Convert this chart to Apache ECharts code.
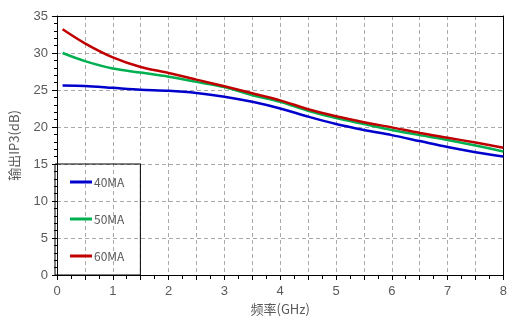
<!DOCTYPE html>
<html><head><meta charset="utf-8">
<script src="https://cdn.jsdelivr.net/npm/echarts@6/dist/echarts.min.js"></script>
<style>html,body{margin:0;padding:0;background:#fff}#c{width:510px;height:321px}</style>
</head><body><div id="c"></div>
<script>
const freq = [0.1, 0.5, 1.0, 1.5, 2.0, 2.5, 3.0, 3.5, 4.0, 4.5, 5.0, 5.5, 6.0, 6.5, 7.0, 7.5, 8.0];
const ip3_40MA = [25.6, 25.55, 25.3, 25.05, 24.9, 24.6, 24.1, 23.4, 22.5, 21.4, 20.4, 19.6, 18.9, 18.1, 17.3, 16.6, 16.0];
const ip3_50MA = [30.0, 28.9, 27.9, 27.35, 26.8, 26.1, 25.4, 24.3, 23.4, 22.2, 21.2, 20.4, 19.6, 18.9, 18.25, 17.5, 16.7];
const ip3_60MA = [33.2, 31.3, 29.4, 28.1, 27.3, 26.4, 25.5, 24.55, 23.6, 22.4, 21.45, 20.65, 19.95, 19.2, 18.55, 17.9, 17.2];
const seriesNames = ['40MA', '50MA', '60MA'];
const colors = ['#0000cc', '#00b050', '#c00000'];
const xTicks = [0, 1, 2, 3, 4, 5, 6, 7, 8];
const yTicks = [0, 5, 10, 15, 20, 25, 30, 35];

const toPairs = arr => freq.map((f, i) => [f, arr[i]]);
const allData = [ip3_40MA, ip3_50MA, ip3_60MA];
const font = '"Noto Sans CJK SC", sans-serif';
const labelFont = '"Liberation Sans", Arial, sans-serif';
const chart = echarts.init(document.getElementById('c'), null, {renderer: 'canvas'});
chart.setOption({
  animation: false,
  backgroundColor: '#fff',
  grid: {left: 55, right: 3, top: 16, bottom: 46},
  legend: {
    orient: 'vertical', left: 55, top: 164,
    padding: [11, 16, 12, 15],
    itemWidth: 22, itemHeight: 3, itemGap: 23,
    icon: 'path://M0,0L22,0L22,3L0,3Z',
    borderColor: '#000', borderWidth: 1,
    textStyle: {color: '#595959', fontSize: 12, fontFamily: font, lineHeight: 14, height: 14, padding: [0, 0, 0, -3]},
    data: seriesNames
  },
  xAxis: [{
    type: 'value', min: 0, max: 8, interval: 0.5,
    name: '频率(GHz)', nameLocation: 'middle', nameGap: 27,
    nameTextStyle: {color: '#595959', fontSize: 13, fontFamily: font},
    axisLine: {lineStyle: {color: '#000', width: 1}},
    axisTick: {show: true, length: 5, lineStyle: {color: '#000'}},
    minorTick: {show: true, splitNumber: 2, length: 4, lineStyle: {color: '#000'}},
    axisLabel: {color: '#595959', fontSize: 13, margin: 10, fontFamily: labelFont,
      formatter: v => xTicks.indexOf(v) >= 0 ? String(v) : ''},
    splitLine: {show: true, showMinLine: false, showMaxLine: false, lineStyle: {color: '#aaa', type: [4, 3], width: 1}}
  }, {
    type: 'value', min: 0, max: 8, position: 'top',
    axisLine: {show: true, onZero: false, lineStyle: {color: '#000', width: 1}},
    axisTick: {show: false}, axisLabel: {show: false}, splitLine: {show: false}
  }],
  yAxis: [{
    type: 'value', min: 0, max: 35, interval: 5,
    name: '输出IP3(dB)', nameLocation: 'middle', nameGap: 36,
    nameTextStyle: {color: '#595959', fontSize: 13, fontFamily: font},
    axisLine: {show: true, lineStyle: {color: '#000', width: 1}},
    axisTick: {show: true, length: 5, lineStyle: {color: '#000'}},
    minorTick: {show: true, splitNumber: 5, length: 3, lineStyle: {color: '#000'}},
    axisLabel: {color: '#595959', fontSize: 13, margin: 9, fontFamily: labelFont,
      formatter: v => yTicks.indexOf(v) >= 0 ? String(v) : ''},
    splitLine: {show: true, showMinLine: false, showMaxLine: false, lineStyle: {color: '#aaa', type: [4, 3], width: 1}}
  }, {
    type: 'value', min: 0, max: 35, position: 'right',
    axisLine: {show: true, onZero: false, lineStyle: {color: '#000', width: 1}},
    axisTick: {show: false}, axisLabel: {show: false}, splitLine: {show: false}
  }],
  series: seriesNames.map((n, k) => ({
    name: n, type: 'line', data: toPairs(allData[k]), smooth: 0.3,
    symbol: 'none', color: colors[k], z: 3 + k,
    lineStyle: {color: colors[k], width: 2.5}
  }))
});
</script></body></html>
